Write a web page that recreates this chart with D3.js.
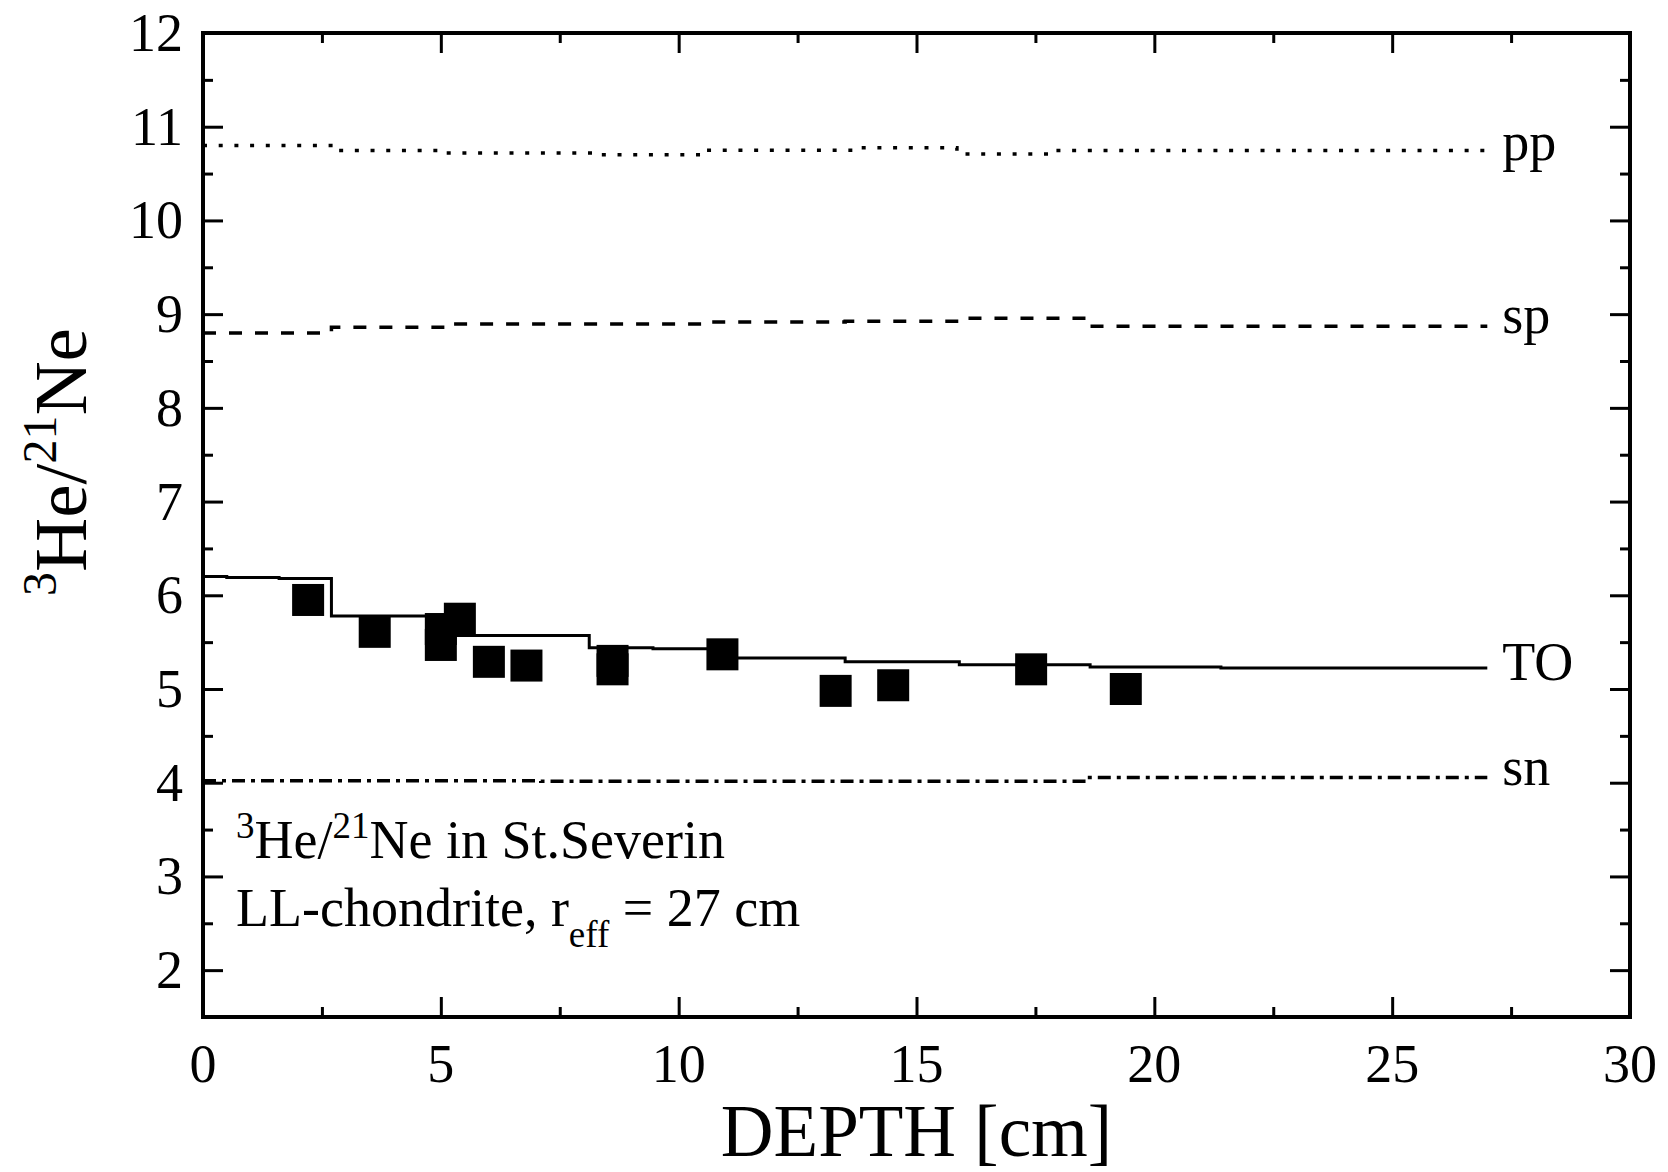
<!DOCTYPE html>
<html>
<head>
<meta charset="utf-8">
<script src="https://cdn.jsdelivr.net/npm/d3@7"></script>
<style>
  html, body { margin: 0; padding: 0; background: #fff; }
  svg { display: block; }
  text { font-family: "Liberation Serif", "Times New Roman", serif; fill: #000; }
</style>
</head>
<body>
<svg id="chart" width="1668" height="1172"></svg>
<script>
// Measured 3He/21Ne ratios in St. Severin versus depth
const depth = [2.21, 3.61, 5.00, 5.00, 5.40, 6.01, 6.80, 8.61, 8.61, 10.92, 13.30, 14.51, 17.41, 19.40];
const ratio = [5.95, 5.61, 5.64, 5.47, 5.75, 5.29, 5.25, 5.30, 5.21, 5.37, 4.98, 5.04, 5.21, 5.00];

// Model curves (step functions: value holds from each depth to the next)
const toDepth = [0, 0.5, 1.6, 2.7, 5.3, 8.12, 9.46, 10.9, 13.5, 15.9, 18.65, 21.4, 27];
const toValue = [6.20, 6.19, 6.18, 5.78, 5.57, 5.44, 5.43, 5.33, 5.29, 5.26, 5.235, 5.225, 5.225];
const ppDepth = [0, 2.75, 5.0, 8.3, 10.5, 13.7, 15.85, 17.8, 27];
const ppValue = [10.80, 10.745, 10.72, 10.70, 10.75, 10.775, 10.71, 10.745, 10.745];
const spDepth = [0, 2.7, 5.1, 10.6, 13.5, 16.0, 18.6, 27];
const spValue = [8.80, 8.86, 8.895, 8.915, 8.925, 8.955, 8.87, 8.87];
const snDepth = [0, 7.1, 18.6, 27];
const snValue = [4.02, 4.015, 4.055, 4.055];

const curveNames = ["pp", "sp", "TO", "sn"];

// Axis ticks
const xMajor = [0, 5, 10, 15, 20, 25, 30];
const xMinor = [2.5, 7.5, 12.5, 17.5, 22.5, 27.5];
const yMajor = [2, 3, 4, 5, 6, 7, 8, 9, 10, 11, 12];
const yMinor = [2.5, 3.5, 4.5, 5.5, 6.5, 7.5, 8.5, 9.5, 10.5, 11.5];

const svg = d3.select("#chart");
const plotLeft = 203, plotRight = 1630, plotTop = 33, plotBottom = 1017;

const x = d3.scaleLinear().domain([0, 30]).range([plotLeft, plotRight]);
const y = d3.scaleLinear().domain([1.5, 12]).range([plotBottom, plotTop]);

// Ticks pointing inward on all four sides
function tickAxis(axis, ticks, size, transform) {
  const g = svg.append("g").attr("transform", transform)
    .call(axis.tickValues(ticks).tickSize(size).tickFormat(""));
  g.select(".domain").remove();
  g.selectAll(".tick line").attr("stroke", "#000").attr("stroke-width", 3);
  return g;
}
tickAxis(d3.axisBottom(x), xMajor, -20, `translate(0,${plotBottom})`);
tickAxis(d3.axisBottom(x), xMinor, -10, `translate(0,${plotBottom})`);
tickAxis(d3.axisTop(x), xMajor, -20, `translate(0,${plotTop})`);
tickAxis(d3.axisTop(x), xMinor, -10, `translate(0,${plotTop})`);
tickAxis(d3.axisLeft(y), yMajor, -20, `translate(${plotLeft},0)`);
tickAxis(d3.axisLeft(y), yMinor, -10, `translate(${plotLeft},0)`);
tickAxis(d3.axisRight(y), yMajor, -20, `translate(${plotRight},0)`);
tickAxis(d3.axisRight(y), yMinor, -10, `translate(${plotRight},0)`);

// Frame
svg.append("rect")
  .attr("x", plotLeft).attr("y", plotTop)
  .attr("width", plotRight - plotLeft).attr("height", plotBottom - plotTop)
  .attr("fill", "none").attr("stroke", "#000").attr("stroke-width", 4);

// Tick labels
svg.append("g").selectAll("text").data(xMajor).join("text")
  .attr("x", d => x(d)).attr("y", 1082)
  .attr("text-anchor", "middle").attr("font-size", 54)
  .text(d => d);
svg.append("g").selectAll("text").data(yMajor).join("text")
  .attr("x", 183).attr("y", d => y(d) + 18)
  .attr("text-anchor", "end").attr("font-size", 54)
  .text(d => d);

// Axis titles
svg.append("text")
  .attr("x", (plotLeft + plotRight) / 2).attr("y", 1156)
  .attr("text-anchor", "middle").attr("font-size", 73)
  .text("DEPTH [cm]");

const yTitle = svg.append("text")
  .attr("transform", "translate(86,462) rotate(-90)")
  .attr("text-anchor", "middle").attr("font-size", 75);
yTitle.append("tspan").attr("font-size", 48).attr("dy", -30).text("3");
yTitle.append("tspan").attr("dy", 30).text("He/");
yTitle.append("tspan").attr("font-size", 48).attr("dy", -30).text("21");
yTitle.append("tspan").attr("dy", 30).text("Ne");

// Model curves
const line = d3.line().x(d => x(d[0])).y(d => y(d[1])).curve(d3.curveStepAfter);
const curves = [
  { name: "pp", xs: ppDepth, ys: ppValue, dash: "4,11.7" },
  { name: "sp", xs: spDepth, ys: spValue, dash: "13,13" },
  { name: "TO", xs: toDepth, ys: toValue, dash: null },
  { name: "sn", xs: snDepth, ys: snValue, dash: "13,6,4,6" }
];
curves.forEach(c => {
  svg.append("path")
    .datum(c.xs.map((d, i) => [d, c.ys[i]]))
    .attr("d", line)
    .attr("fill", "none").attr("stroke", "#000")
    .attr("stroke-width", c.dash ? 3.5 : 3)
    .attr("stroke-dasharray", c.dash);
});

// Curve labels
const labelBaseline = { pp: 160, sp: 333, TO: 680, sn: 785 };
svg.append("g").selectAll("text").data(curveNames).join("text")
  .attr("x", x(27) + 15).attr("y", d => labelBaseline[d])
  .attr("font-size", 54)
  .text(d => d);

// Measured points
const size = 32;
svg.append("g").selectAll("rect").data(depth.map((d, i) => [d, ratio[i]])).join("rect")
  .attr("x", d => x(d[0]) - size / 2).attr("y", d => y(d[1]) - size / 2)
  .attr("width", size).attr("height", size).attr("fill", "#000");

// Annotation
const note1 = svg.append("text").attr("x", 236).attr("y", 858).attr("font-size", 54);
note1.append("tspan").attr("font-size", 37).attr("dy", -20).text("3");
note1.append("tspan").attr("dy", 20).text("He/");
note1.append("tspan").attr("font-size", 37).attr("dy", -20).text("21");
note1.append("tspan").attr("dy", 20).text("Ne in St.Severin");

const note2 = svg.append("text").attr("x", 236).attr("y", 926).attr("font-size", 54);
note2.append("tspan").text("LL-chondrite, r");
note2.append("tspan").attr("font-size", 37).attr("dy", 21).text("eff");
note2.append("tspan").attr("dy", -21).text(" = 27 cm");
</script>
</body>
</html>
